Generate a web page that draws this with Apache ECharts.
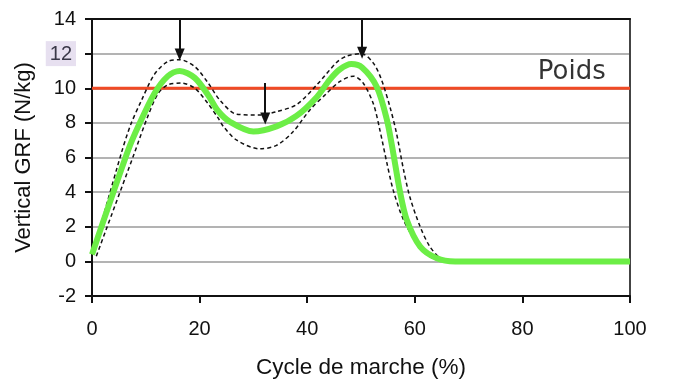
<!DOCTYPE html>
<html><head><meta charset="utf-8">
<script src="https://cdn.jsdelivr.net/npm/echarts@6/dist/echarts.min.js"></script>
<style>html,body{margin:0;padding:0;background:#fff}#c{width:678px;height:392px}</style>
</head><body><div id="c"></div>
<script>
// Mean curve (green)
var meanCurve = [[0,0.4],[6.7,6.4],[8.6,7.8],[11.6,9.7],[14.1,10.7],[16.3,11.0],[19.1,10.6],[21.6,9.6],[23.4,8.7],[25.7,8.05],[30,7.5],[34.3,7.8],[38,8.4],[41.8,9.5],[44.2,10.5],[46.1,11.1],[48.2,11.4],[50.2,11.2],[52.9,10.1],[54.8,8.2],[56,6.25],[57.2,4.1],[58.5,2.4],[61,0.85],[64.1,0.18],[67.5,0],[80,0],[100,0]];
// Upper bound (dashed)
var upperCurve = [[0.2,0.5],[5.4,6.2],[7.2,7.9],[9.2,9.3],[11.6,10.8],[14.1,11.55],[16.3,11.65],[19.1,11.25],[21.6,10.3],[23.8,9.3],[26.9,8.5],[31.2,8.45],[34.3,8.65],[38,9.05],[41.8,10.2],[45.5,11.5],[47.3,11.85],[50.1,12.0],[52.3,11.45],[53.8,10.5],[55.4,8.9],[56.6,7.4],[57.9,5.3],[59.1,3.7],[61,2.0],[62.8,0.85],[64.7,0.18],[66,0]];
// Lower bound (dashed)
var lowerCurve = [[0.8,0.3],[7.7,6.1],[10.4,8.4],[12.3,9.7],[14.1,10.2],[16.6,10.3],[19.1,10.0],[21.6,9.1],[23.4,8.3],[24.4,7.8],[26.9,7.0],[31.2,6.5],[34.3,6.7],[37.4,7.5],[40.5,8.75],[43.6,9.7],[46.1,10.4],[48.6,10.7],[50.4,10.3],[52.3,9.1],[53.5,7.6],[54.8,5.7],[56,4.1],[57.9,2.4],[60.4,1.05],[62.8,0.27],[64.7,0.05],[66,0]];
// Body weight line
var poidsValue = 10;
var poidsLabel = 'Poids';
// Arrows: x position, start y, end y
var arrowX = [16.3, 32.2, 50.2];
var arrowFrom = [14, 10.3, 14];
var arrowTo = [11.95, 8.25, 12.05];
// Axes
var xTicks = [0, 20, 40, 60, 80, 100];
var yTicks = [-2, 0, 2, 4, 6, 8, 10, 12, 14];
var xName = 'Cycle de marche (%)';
var yName = 'Vertical GRF (N/kg)';

var FONT = '"Liberation Sans", Arial, sans-serif';
var arrowData = arrowX.map(function(x, i){
  return [{coord:[x, arrowFrom[i]]},{coord:[x, arrowTo[i]]}];
});

var chart = echarts.init(document.getElementById('c'), null, {renderer:'canvas'});
chart.setOption({
  animation: false,
  grid: {left: 92, right: 48, top: 19, bottom: 96},
  xAxis: [{
    type: 'value', min: xTicks[0], max: xTicks[xTicks.length-1], interval: 20,
    position: 'bottom',
    name: xName, nameLocation: 'middle', nameGap: 60,
    nameTextStyle: {fontFamily: FONT, fontSize: 22.5, color: '#111'},
    axisLine: {show: true, onZero: false, lineStyle: {color: '#111', width: 2}},
    axisTick: {show: true, inside: false, length: 7, lineStyle: {color: '#111', width: 2}},
    axisLabel: {margin: 23, fontFamily: FONT, fontSize: 20, color: '#111'},
    splitLine: {show: false}
  },{
    type: 'value', min: 0, max: 100, position: 'top',
    axisLine: {show: true, onZero: false, lineStyle: {color: '#111', width: 2}},
    axisTick: {show: false}, axisLabel: {show: false}, splitLine: {show: false}
  }],
  yAxis: [{
    type: 'value', min: yTicks[0], max: yTicks[yTicks.length-1], interval: 2,
    name: yName, nameLocation: 'middle', nameGap: 57, nameRotate: 90,
    nameTextStyle: {fontFamily: FONT, fontSize: 22, color: '#111'},
    axisLine: {show: true, onZero: false, lineStyle: {color: '#111', width: 2}},
    axisTick: {show: true, inside: false, length: 7, lineStyle: {color: '#111', width: 2}},
    axisLabel: {margin: 16, fontFamily: FONT, fontSize: 20, color: '#111',
      formatter: function(v){ return v === 12 ? '{h|12}' : String(v); },
      rich: {h: {backgroundColor: '#e7e0f0', color: '#3a3848', padding: [3, 4, 2, 4], fontFamily: FONT, fontSize: 20}}
    },
    splitLine: {show: true, lineStyle: {color: '#9a9a9a', width: 1.5}}
  },{
    type: 'value', min: -2, max: 14, position: 'right',
    axisLine: {show: true, onZero: false, lineStyle: {color: '#444', width: 2}},
    axisTick: {show: false}, axisLabel: {show: false}, splitLine: {show: false}
  }],
  series: [
    {
      type: 'line', name: 'poids', data: [[0, poidsValue], [100, poidsValue]],
      symbol: 'none', lineStyle: {color: '#f04a25', width: 3}, z: 2, silent: true
    },
    {
      type: 'line', name: 'upper', data: upperCurve, smooth: 0.3,
      symbol: 'none', lineStyle: {color: '#111', width: 1.5, type: [4, 3]}, z: 3
    },
    {
      type: 'line', name: 'lower', data: lowerCurve, smooth: 0.3,
      symbol: 'none', lineStyle: {color: '#111', width: 1.5, type: [4, 3]}, z: 3
    },
    {
      type: 'line', name: 'mean', data: meanCurve, smooth: 0.3,
      symbol: 'none', lineStyle: {color: '#6cee46', width: 6}, z: 4,
      markLine: {
        silent: true, symbol: ['none', 'triangle'], symbolSize: [10, 12],
        label: {show: false},
        lineStyle: {color: '#111', width: 2, type: 'solid'},
        data: arrowData
      }
    },
    {
      type: 'scatter', data: [[95.5, poidsValue]], symbolSize: 0,
      label: {show: true, position: 'top', formatter: poidsLabel, distance: 3,
        align: 'right', fontFamily: '"DejaVu Sans", sans-serif', fontSize: 26, color: '#000'}
    }
  ]
});
</script></body></html>
